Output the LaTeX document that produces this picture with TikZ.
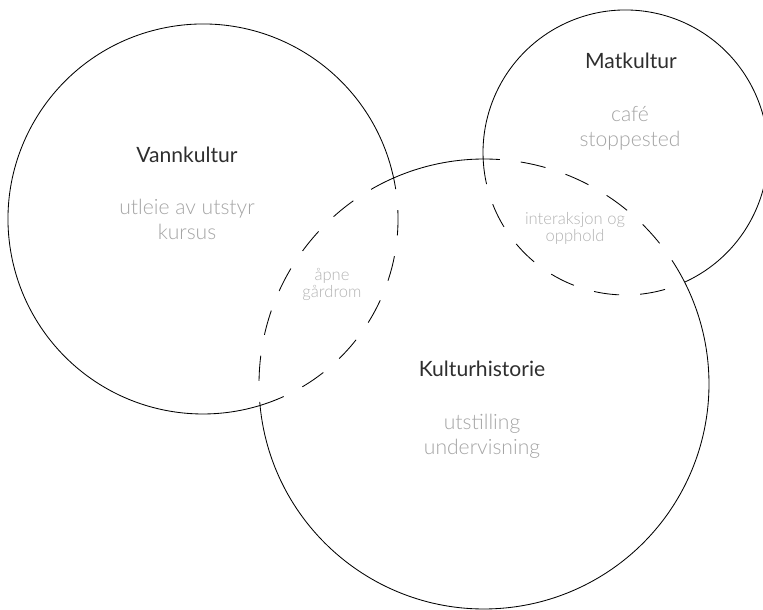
\documentclass[tikz,border=0pt]{standalone}
\usepackage{fontspec}
\setmainfont{Lato}
\newfontfamily\thinfont{Lato Light}
\definecolor{titlegray}{HTML}{2E2E2E}
\definecolor{notegray}{HTML}{A4A4A4}
\definecolor{lensgray}{HTML}{B2B2B2}
\tikzset{
  ring/.style={black, line width=0.6pt},
  ringdash/.style={ring, dash pattern=on 18pt off 15pt},
  heading/.style={text=titlegray, inner sep=0pt, font=\fontsize{15}{18}\selectfont},
  note/.style={text=notegray, inner sep=0pt, align=center, font=\thinfont\fontsize{15}{17.7}\selectfont},
  lensnote/.style={text=lensgray, inner sep=0pt, align=center, font=\thinfont\fontsize{11.8}{12.6}\selectfont}
}
\begin{document}
\begin{tikzpicture}[x=0.025cm, y=0.025cm]
	\useasboundingbox (0,0) rectangle (763,610);
	% centres of the three circles
	\coordinate (vann) at (203,391);
	\coordinate (mat) at (625.5,457.5);
	\coordinate (hist) at (484,226);
	% Vannkultur: solid outside, dashed inside Kulturhistorie
	\draw [ring] (vann) ++(12.15:195) arc [start angle=12.15, end angle=287.01, radius=195];
	\draw [ringdash] (vann) ++(-72.99:195) arc [start angle=-72.99, end angle=12.15, radius=195];
	% Matkultur
	\draw [ring] (mat) ++(-65.48:142.5) arc [start angle=-65.48, end angle=182.62, radius=142.5];
	\draw [ringdash] (mat) ++(182.62:142.5) arc [start angle=182.62, end angle=294.52, radius=142.5];
	% Kulturhistorie
	\draw [ring] (hist) ++(185.48:225) arc [start angle=185.48, end angle=386.89, radius=225];
	\draw [ring] (hist) ++(90.25:225) arc [start angle=90.25, end angle=113.68, radius=225];
	\draw [ringdash] (hist) ++(113.68:225) arc [start angle=113.68, end angle=185.48, radius=225];
	\draw [ringdash] (hist) ++(26.89:225) arc [start angle=26.89, end angle=90.25, radius=225];
	% labels
	\node [heading] (vanntitle) at (187,455.5) {Vannkultur};
	\node [note] (vannnote) at (187,391) {utleie av utstyr\\kursus};
	\node [heading] (mattitle) at (631,549.5) {Matkultur};
	\node [note] (matnote) at (630,482) {café\\stoppested};
	\node [heading] (histtitle) at (482,241) {Kulturhistorie};
	\node [note] (histnote) at (482,173.5) {utstilling\\undervisning};
	\node [lensnote] (gardnote) at (332,325.5) {åpne\\gårdrom};
	\node [lensnote] (oppnote) at (575,381.5) {interaksjon og\\opphold};
\end{tikzpicture}
\end{document}
